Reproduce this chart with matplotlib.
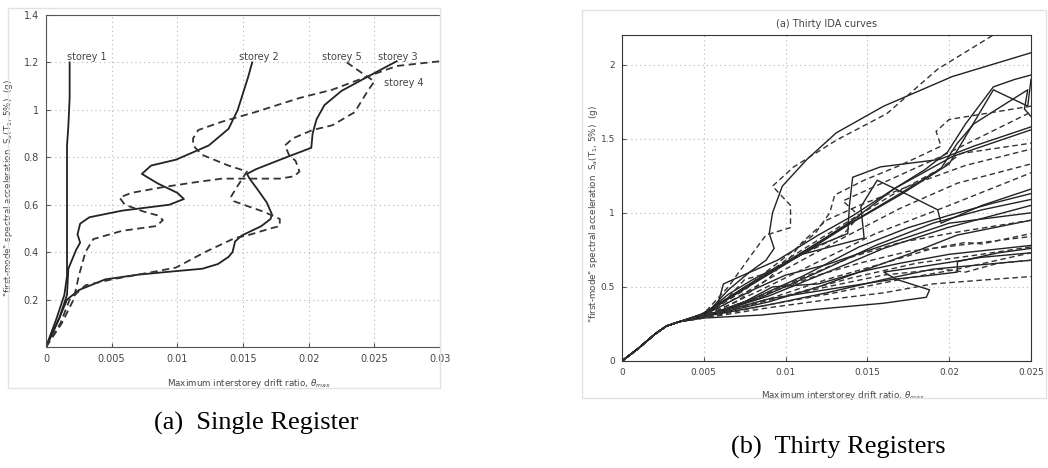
import numpy as np
import matplotlib.pyplot as plt
from matplotlib.patches import Rectangle

# ---- left panel: single record, five storeys ----
storey1_x = [0, 0.0008, 0.0014, 0.0016, 0.0016, 0.0016, 0.0017, 0.0018, 0.0018]
storey1_y = [0, 0.12, 0.22, 0.30, 0.50, 0.85, 0.93, 1.05, 1.20]

storey2_x = [0, 0.0010, 0.0016, 0.0017, 0.0023, 0.0026, 0.0024, 0.0026, 0.0033, 0.0058, 0.0094,
             0.0105, 0.0100, 0.0085, 0.0073, 0.0080, 0.0099, 0.0124, 0.0139, 0.0146, 0.0150, 0.0154, 0.0157]
storey2_y = [0, 0.12, 0.22, 0.33, 0.41, 0.44, 0.475, 0.52, 0.547, 0.575, 0.60,
             0.624, 0.65, 0.69, 0.73, 0.765, 0.79, 0.85, 0.92, 1.00, 1.07, 1.14, 1.20]

storey3_x = [0, 0.0010, 0.0016, 0.0025, 0.0045, 0.0070, 0.0099, 0.0119, 0.0131, 0.0139, 0.0142, 0.0144,
             0.0149, 0.0164, 0.0171, 0.0172, 0.0168, 0.0161, 0.0155, 0.0153, 0.0160, 0.0183, 0.0202,
             0.0203, 0.0206, 0.0212, 0.0225, 0.0245, 0.0267]
storey3_y = [0, 0.12, 0.20, 0.24, 0.285, 0.305, 0.32, 0.33, 0.35, 0.38, 0.40, 0.445,
             0.47, 0.51, 0.54, 0.56, 0.61, 0.665, 0.71, 0.73, 0.75, 0.80, 0.84,
             0.90, 0.96, 1.02, 1.08, 1.14, 1.205]

storey4_x = [0, 0.0011, 0.0018, 0.0030, 0.0050, 0.0080, 0.0099, 0.0121, 0.0144, 0.0153, 0.0171, 0.0178,
             0.0178, 0.0166, 0.0153, 0.0143, 0.0141, 0.0146, 0.0153, 0.0139, 0.0119, 0.0112, 0.0112,
             0.0116, 0.0134, 0.0159, 0.0193, 0.0218, 0.0242, 0.0267, 0.0300]
storey4_y = [0, 0.10, 0.20, 0.26, 0.285, 0.315, 0.335, 0.40, 0.46, 0.47, 0.50, 0.51,
             0.54, 0.57, 0.595, 0.615, 0.635, 0.68, 0.74, 0.765, 0.81, 0.85, 0.88,
             0.915, 0.95, 0.99, 1.05, 1.085, 1.135, 1.185, 1.205]

storey5_x = [0, 0.0012, 0.0021, 0.0025, 0.0030, 0.0036, 0.0058, 0.0084, 0.0089, 0.0085, 0.0075, 0.0060,
             0.0056, 0.0065, 0.0090, 0.0114, 0.0134, 0.0153, 0.0178, 0.0189, 0.0193, 0.0190, 0.0185,
             0.0182, 0.0188, 0.0203, 0.0218, 0.0235, 0.0245, 0.0250, 0.0242, 0.0229]
storey5_y = [0, 0.10, 0.20, 0.30, 0.40, 0.455, 0.49, 0.51, 0.535, 0.555, 0.57, 0.60,
             0.63, 0.65, 0.675, 0.695, 0.71, 0.71, 0.71, 0.72, 0.74, 0.785, 0.81,
             0.85, 0.88, 0.915, 0.935, 0.99, 1.08, 1.12, 1.15, 1.20]

storey_labels = ['storey 1', 'storey 2', 'storey 5', 'storey 3', 'storey 4']
label_x = [0.0016, 0.0147, 0.0210, 0.0253, 0.0257]
label_y = [1.225, 1.225, 1.225, 1.225, 1.113]

# ---- right panel: thirty IDA curves ----
base_x = [0, 0.001, 0.002, 0.0027, 0.0035]
base_y = [0, 0.085, 0.18, 0.235, 0.265]

ida_solid = [
    [(0.0045, 0.29), (0.0055, 0.36), (0.0065, 0.48), (0.0078, 0.60), (0.0088, 0.68), (0.0093, 0.76), (0.0090, 0.86),
     (0.0092, 1.00), (0.0098, 1.18), (0.0113, 1.36), (0.0131, 1.54), (0.0160, 1.72), (0.0202, 1.92), (0.025, 2.08)],
    [(0.0045, 0.30), (0.0058, 0.36), (0.0062, 0.52), (0.0068, 0.55), (0.0095, 0.68), (0.0120, 0.85), (0.0141, 0.98),
     (0.0166, 1.16), (0.0185, 1.29), (0.0199, 1.41), (0.0210, 1.60), (0.0227, 1.85), (0.0240, 1.90), (0.025, 1.93)],
    [(0.005, 0.31), (0.0065, 0.42), (0.008, 0.53), (0.010, 0.66), (0.012, 0.80), (0.0141, 0.95), (0.0166, 1.16),
     (0.0202, 1.38), (0.025, 1.56)],
    [(0.005, 0.32), (0.007, 0.46), (0.0095, 0.63), (0.012, 0.78), (0.0138, 0.86), (0.0139, 1.05), (0.0141, 1.24),
     (0.0158, 1.31), (0.0194, 1.36), (0.0215, 1.45), (0.025, 1.58)],
    [(0.005, 0.31), (0.0065, 0.45), (0.008, 0.55), (0.011, 0.72), (0.0148, 0.83), (0.0146, 1.04), (0.0156, 1.22),
     (0.0175, 1.12), (0.0193, 1.02), (0.0195, 0.93), (0.022, 1.05), (0.025, 1.16)],
    [(0.005, 0.30), (0.008, 0.42), (0.011, 0.57), (0.0145, 0.77), (0.0175, 0.90), (0.0199, 0.98), (0.0225, 1.06),
     (0.025, 1.13)],
    [(0.005, 0.30), (0.0085, 0.43), (0.012, 0.60), (0.0155, 0.78), (0.019, 0.93), (0.022, 1.02), (0.025, 1.09)],
    [(0.005, 0.30), (0.009, 0.44), (0.013, 0.62), (0.016, 0.76), (0.0199, 0.90), (0.025, 1.05)],
    [(0.005, 0.30), (0.009, 0.40), (0.012, 0.50), (0.0145, 0.60), (0.017, 0.66), (0.020, 0.72), (0.025, 0.78)],
    [(0.005, 0.30), (0.009, 0.38), (0.0125, 0.46), (0.016, 0.55), (0.019, 0.62), (0.022, 0.65), (0.025, 0.68)],
    [(0.005, 0.29), (0.0085, 0.31), (0.012, 0.35), (0.016, 0.39), (0.0186, 0.43), (0.0188, 0.48), (0.0168, 0.55),
     (0.016, 0.60), (0.0185, 0.64), (0.022, 0.70), (0.025, 0.73)],
    [(0.005, 0.32), (0.0075, 0.50), (0.0105, 0.70), (0.0135, 0.90), (0.017, 1.13), (0.0195, 1.30), (0.0205, 1.47),
     (0.0215, 1.60), (0.0235, 1.74), (0.0248, 1.83), (0.0246, 1.70), (0.025, 1.65)],
    [(0.005, 0.32), (0.008, 0.52), (0.011, 0.72), (0.014, 0.93), (0.017, 1.12), (0.020, 1.33), (0.0227, 1.83),
     (0.0248, 1.72), (0.025, 1.90)],
    [(0.005, 0.30), (0.0075, 0.40), (0.0092, 0.50), (0.012, 0.52), (0.0145, 0.60), (0.0175, 0.72), (0.0205, 0.85),
     (0.025, 0.95)],
    [(0.005, 0.31), (0.008, 0.48), (0.010, 0.58), (0.0125, 0.65), (0.0165, 0.80), (0.020, 0.93), (0.025, 1.00)],
    [(0.005, 0.30), (0.009, 0.42), (0.013, 0.49), (0.0165, 0.55), (0.019, 0.58), (0.0205, 0.60), (0.0205, 0.67),
     (0.023, 0.73), (0.025, 0.76)],
]

ida_dashed = [
    [(0.005, 0.32), (0.0065, 0.50), (0.008, 0.73), (0.0088, 0.85), (0.0103, 0.90), (0.0103, 1.05), (0.0092, 1.18),
     (0.0105, 1.31), (0.0131, 1.49), (0.0162, 1.67), (0.0193, 1.97), (0.0227, 2.20)],
    [(0.005, 0.31), (0.007, 0.45), (0.0095, 0.66), (0.0118, 0.86), (0.0127, 1.00), (0.013, 1.12), (0.0148, 1.22),
     (0.017, 1.32), (0.0195, 1.45), (0.0192, 1.55), (0.020, 1.63), (0.025, 1.72)],
    [(0.005, 0.31), (0.0075, 0.48), (0.010, 0.68), (0.0135, 0.92), (0.0165, 1.12), (0.0195, 1.30), (0.0207, 1.40),
     (0.025, 1.47)],
    [(0.005, 0.30), (0.0075, 0.46), (0.010, 0.62), (0.0135, 0.83), (0.017, 1.03), (0.0205, 1.20), (0.025, 1.33)],
    [(0.005, 0.30), (0.0085, 0.48), (0.012, 0.67), (0.0155, 0.86), (0.020, 1.05), (0.025, 1.27)],
    [(0.005, 0.30), (0.008, 0.42), (0.011, 0.56), (0.014, 0.70), (0.017, 0.80), (0.0205, 0.87), (0.025, 0.95)],
    [(0.005, 0.30), (0.009, 0.42), (0.0125, 0.55), (0.016, 0.66), (0.019, 0.76), (0.021, 0.80), (0.022, 0.79),
     (0.025, 0.86)],
    [(0.005, 0.29), (0.009, 0.38), (0.013, 0.46), (0.017, 0.55), (0.0205, 0.62), (0.025, 0.73)],
    [(0.005, 0.30), (0.0085, 0.40), (0.0125, 0.50), (0.016, 0.58), (0.0195, 0.62), (0.021, 0.60), (0.023, 0.66),
     (0.025, 0.68)],
    [(0.005, 0.29), (0.009, 0.36), (0.013, 0.42), (0.016, 0.46), (0.019, 0.52), (0.0225, 0.55), (0.025, 0.57)],
    [(0.005, 0.31), (0.0065, 0.43), (0.0075, 0.55), (0.0085, 0.58), (0.011, 0.72), (0.0135, 0.85), (0.0145, 0.98),
     (0.0135, 1.08), (0.0165, 1.23), (0.0195, 1.38), (0.025, 1.68)],
    [(0.005, 0.30), (0.007, 0.40), (0.009, 0.56), (0.0095, 0.62), (0.0103, 0.70), (0.011, 0.80), (0.0125, 0.95),
     (0.0145, 1.05), (0.018, 1.20), (0.021, 1.32), (0.025, 1.43)],
    [(0.005, 0.30), (0.0085, 0.44), (0.012, 0.58), (0.0145, 0.66), (0.0175, 0.74), (0.022, 0.80), (0.025, 0.84)],
    [(0.005, 0.30), (0.010, 0.44), (0.014, 0.56), (0.018, 0.66), (0.022, 0.72), (0.025, 0.77)],
]

ylab = '"first-mode" spectral acceleration  S$_a$(T$_1$, 5%)  (g)'
xlab = 'Maximum interstorey drift ratio, $\\theta_{max}$'

plt.rcParams['font.family'] = ['DejaVu Sans']
fig = plt.figure(figsize=(10.48, 4.68), dpi=100)

# faint frames of the two pasted screenshots
fig.patches.append(Rectangle((8 / 1048, 1 - 388 / 468), 432 / 1048, 380 / 468, transform=fig.transFigure,
                             fill=False, edgecolor='#e2e2e2', lw=1.0))
fig.patches.append(Rectangle((582 / 1048, 1 - 398 / 468), 464 / 1048, 388 / 468, transform=fig.transFigure,
                             fill=False, edgecolor='#e2e2e2', lw=1.0))

dash = (0, (4, 2.5))
grid_kw = dict(color='#b5b5b5', linestyle=(0, (1, 3)), linewidth=0.8)

# left panel
ax1 = fig.add_axes([46 / 1048, 1 - 347 / 468, 394 / 1048, 332 / 468])
ax1.plot(storey1_x, storey1_y, color='#222222', lw=1.3)
ax1.plot(storey2_x, storey2_y, color='#222222', lw=1.3)
ax1.plot(storey3_x, storey3_y, color='#222222', lw=1.3)
ax1.plot(storey4_x, storey4_y, color='#333333', lw=1.3, linestyle=dash)
ax1.plot(storey5_x, storey5_y, color='#333333', lw=1.3, linestyle=dash)
for t, lx, ly in zip(storey_labels, label_x, label_y):
    ax1.text(lx, ly, t, fontsize=7, color='#444444', va='center', ha='left')
ax1.set_xlim(0, 0.03)
ax1.set_ylim(0, 1.4)
ax1.set_xticks(np.linspace(0, 0.03, 7))
ax1.set_xticklabels(['0', '0.005', '0.01', '0.015', '0.02', '0.025', '0.03'])
ax1.set_yticks(np.linspace(0, 1.4, 8))
ax1.set_yticklabels(['', '0.2', '0.4', '0.6', '0.8', '1', '1.2', '1.4'])
ax1.grid(True, **grid_kw)
ax1.spines['right'].set_visible(False)
for s in ['top', 'left', 'bottom']:
    ax1.spines[s].set_color('#555555')
ax1.tick_params(direction='in', labelsize=7, labelcolor='#444444', colors='#555555', length=3, pad=5)
ax1.set_xlabel(xlab, fontsize=6.3, color='#444444')
ax1.set_ylabel(ylab, fontsize=6.3, color='#444444')
ax1.xaxis.set_label_coords(0.515, -0.09)
ax1.yaxis.set_label_coords(-0.078, 0.48)

# right panel
ax2 = fig.add_axes([622 / 1048, 1 - 361 / 468, 409 / 1048, 326 / 468])
for c in ida_solid:
    xs = base_x + [p[0] for p in c]
    ys = base_y + [p[1] for p in c]
    ax2.plot(xs, ys, color='#222222', lw=1.0)
for c in ida_dashed:
    xs = base_x + [p[0] for p in c]
    ys = base_y + [p[1] for p in c]
    ax2.plot(xs, ys, color='#333333', lw=1.0, linestyle=dash)
ax2.set_xlim(0, 0.025)
ax2.set_ylim(0, 2.2)
ax2.set_xticks(np.linspace(0, 0.025, 6))
ax2.set_xticklabels(['0', '0.005', '0.01', '0.015', '0.02', '0.025'])
ax2.set_yticks([0, 0.5, 1, 1.5, 2])
ax2.set_yticklabels(['0', '0.5', '1', '1.5', '2'])
ax2.grid(True, **grid_kw)
for s in ax2.spines.values():
    s.set_color('#333333')
ax2.tick_params(direction='in', labelsize=6.5, labelcolor='#444444', colors='#555555', length=3, pad=5)
ax2.set_title('(a) Thirty IDA curves', fontsize=7, color='#444444', pad=6)
ax2.set_xlabel(xlab, fontsize=6.3, color='#444444')
ax2.set_ylabel(ylab, fontsize=6.3, color='#444444')
ax2.xaxis.set_label_coords(0.54, -0.085)
ax2.yaxis.set_label_coords(-0.055, 0.45)

# captions
fig.text(256 / 1048, 1 - 423 / 468, '(a)  Single Register', fontsize=19, family='Liberation Serif',
         ha='center', va='center')
fig.text(838 / 1048, 1 - 447 / 468, '(b)  Thirty Registers', fontsize=19, family='Liberation Serif',
         ha='center', va='center')

fig.savefig('out.png', dpi=100)
